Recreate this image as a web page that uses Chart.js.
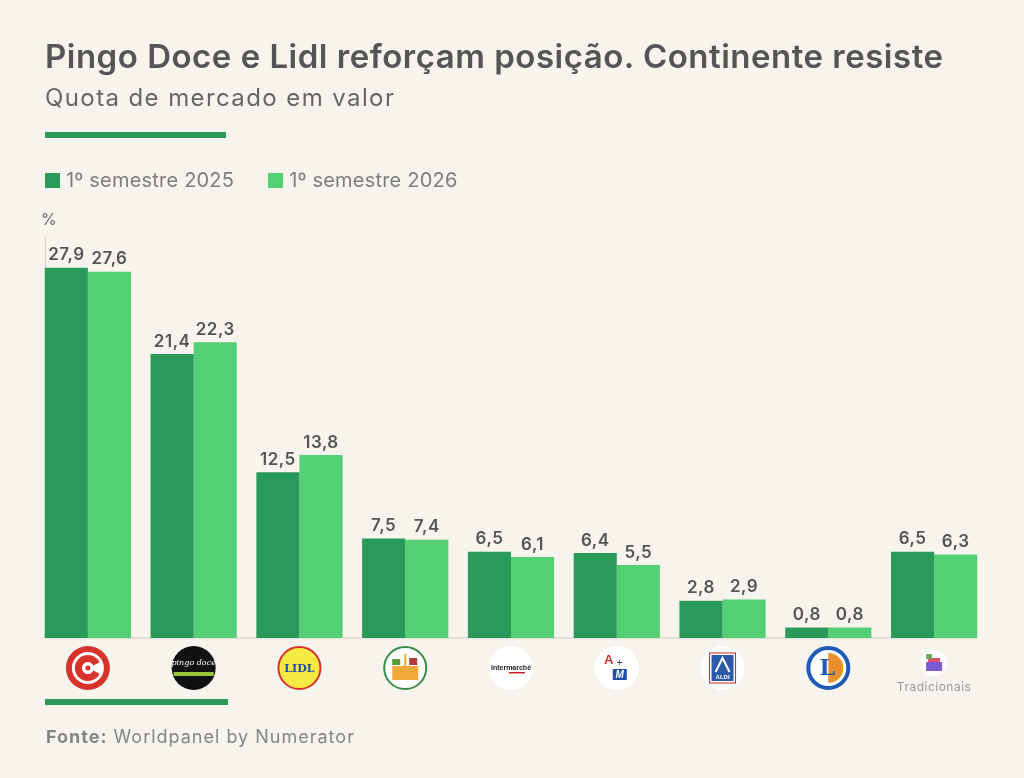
<!DOCTYPE html>
<html>
<head>
<meta charset="utf-8">
<script src="https://cdn.jsdelivr.net/npm/chart.js@4"></script>
<style>
  body{margin:0;background:#f7f4ee;font-family:Inter,"Open Sans",sans-serif;}
  #wrap{position:relative;width:1024px;height:778px;overflow:hidden;}
  #c{position:absolute;left:0;top:0;}
  .t{position:absolute;left:45px;white-space:nowrap;}
  #title{top:36px;font-size:33px;font-weight:600;color:#555;letter-spacing:0.5px;}
  #sub{top:83px;font-size:24px;color:#666;letter-spacing:1.4px;}
  .bar{position:absolute;left:45px;width:181px;height:6px;background:#2a9a5b;}
  #legend{top:168px;font-size:20px;color:#7d7d7d;letter-spacing:0.2px;}
  #legend span.sq{display:inline-block;width:15px;height:15px;margin-right:6px;vertical-align:-1px;}
  #pct{top:209px;left:41px;font-size:16px;color:#666;}
  #src{top:726px;left:46px;font-size:18px;color:#838783;letter-spacing:1px;}
</style>
</head>
<body>
<div id="wrap">
  <canvas id="c" width="1024" height="778"></canvas>
  <div class="t" id="title">Pingo Doce e Lidl reforçam posição. Continente resiste</div>
  <div class="t" id="sub">Quota de mercado em valor</div>
  <div class="bar" style="top:132px"></div>
  <div class="t" id="legend"></div>
  <div class="t" id="pct">%</div>
  <div class="bar" style="top:699px;width:183px"></div>
  <div class="t" id="src"><b>Fonte:</b> Worldpanel by Numerator</div>
</div>
<script>
// --- Dados ---
const insignias = ['Continente','Pingo Doce','Lidl','Mercadona','Intermarché','Auchan + Minipreço','Aldi','E.Leclerc','Tradicionais'];
const sem2025 = [27.9, 21.4, 12.5, 7.5, 6.5, 6.4, 2.8, 0.8, 6.5];
const sem2026 = [27.6, 22.3, 13.8, 7.4, 6.1, 5.5, 2.9, 0.8, 6.3];
const series = ['1º semestre 2025','1º semestre 2026'];
const cores = ['#2a9a5b','#55cf75'];

// --- Legenda ---
document.getElementById('legend').innerHTML = series.map((s,i)=>
  `<span style="margin-right:${i?0:34}px"><span class="sq" style="background:${cores[i]}"></span>${s}</span>`).join('');

// --- Rotulos por cima das barras ---
const valueLabels = {
  id:'valueLabels',
  afterDatasetsDraw(chart){
    const ctx = chart.ctx;
    ctx.save();
    ctx.font = '600 17px Inter, sans-serif';
    ctx.letterSpacing = '0.5px';
    ctx.fillStyle = '#555';
    ctx.textAlign = 'center';
    ctx.textBaseline = 'bottom';
    chart.data.datasets.forEach((ds,di)=>{
      chart.getDatasetMeta(di).data.forEach((b,i)=>{
        ctx.fillText(ds.data[i].toFixed(1).replace('.',','), b.x, b.y-4);
      });
    });
    ctx.restore();
  }
};

// --- Eixos e logotipos ---
function circ(ctx,x,y,r,fill,stroke,lw){
  ctx.beginPath(); ctx.arc(x,y,r,0,Math.PI*2);
  if(fill){ ctx.fillStyle=fill; ctx.fill(); }
  if(stroke){ ctx.lineWidth=lw||2; ctx.strokeStyle=stroke; ctx.stroke(); }
}
function drawLogo(ctx,i,x,y){
  const r=22;
  ctx.save();
  ctx.textAlign='center'; ctx.textBaseline='middle';
  if(i===0){ // Continente
    circ(ctx,x,y,r,'#d8322a');
    circ(ctx,x,y,16,'#fff');
    ctx.beginPath(); ctx.arc(x,y,9.5,0.45,Math.PI*2-0.45);
    ctx.lineWidth=7; ctx.strokeStyle='#d8322a'; ctx.stroke();
    circ(ctx,x,y,2.5,'#d8322a');
  } else if(i===1){ // Pingo Doce
    circ(ctx,x,y,r,'#111');
    ctx.fillStyle='#fff'; ctx.font='italic 8px "DejaVu Serif", serif';
    ctx.fillText('pingo doce',x,y-5);
    ctx.fillStyle='#9bc53d'; ctx.fillRect(x-20,y+4,40,4);
  } else if(i===2){ // Lidl
    circ(ctx,x,y,r-1,'#f8ea45','#d8322a',2);
    ctx.fillStyle='#1f4fa8'; ctx.font='bold 11px "DejaVu Serif", serif';
    ctx.fillText('LIDL',x,y+1);
  } else if(i===3){ // Mercadona
    circ(ctx,x,y,r-1,'#fff','#3a8a4a',2);
    ctx.fillStyle='#f2a93b'; ctx.fillRect(x-13,y-2,26,14);
    ctx.fillStyle='#5a9a3a'; ctx.fillRect(x-13,y-9,8,6);
    ctx.fillStyle='#b03a3a'; ctx.fillRect(x+4,y-10,8,7);
    ctx.fillStyle='#f2a93b'; ctx.fillRect(x-1,y-14,2,12);
  } else if(i===4){ // Intermarche
    circ(ctx,x,y,r,'#fff');
    ctx.font='bold 7px sans-serif'; ctx.fillStyle='#222';
    ctx.fillText('Intermarché',x,y);
    ctx.fillStyle='#c8202a'; ctx.fillRect(x-2,y+4,16,1.5);
  } else if(i===5){ // Auchan + Minipreco
    circ(ctx,x,y,r,'#fff');
    ctx.font='bold 13px sans-serif'; ctx.fillStyle='#d8322a';
    ctx.fillText('A',x-8,y-8);
    ctx.fillStyle='#333'; ctx.font='10px sans-serif'; ctx.fillText('+',x+3,y-5);
    ctx.fillStyle='#1f4fa8'; ctx.fillRect(x-4,y+1,14,11);
    ctx.fillStyle='#fff'; ctx.font='bold italic 10px sans-serif'; ctx.fillText('M',x+3,y+7);
  } else if(i===6){ // Aldi
    circ(ctx,x,y,r,'#fff');
    ctx.strokeStyle='#c8202a'; ctx.lineWidth=1; ctx.strokeRect(x-13,y-15,26,30);
    ctx.fillStyle='#2a5aa8'; ctx.fillRect(x-11,y-13,22,26);
    ctx.fillStyle='#fff'; ctx.font='bold 6px sans-serif'; ctx.fillText('ALDI',x,y+9);
    ctx.beginPath(); ctx.moveTo(x-7,y+4); ctx.lineTo(x,y-10); ctx.lineTo(x+7,y+4);
    ctx.strokeStyle='#fff'; ctx.lineWidth=2; ctx.stroke();
  } else if(i===7){ // E.Leclerc
    circ(ctx,x,y,r-2,'#fff','#1f5ab4',4);
    ctx.beginPath(); ctx.arc(x,y,15,-Math.PI/2,Math.PI/2); ctx.fillStyle='#e8902e'; ctx.fill();
    ctx.fillStyle='#1f5ab4'; ctx.font='bold 22px "DejaVu Serif", serif'; ctx.fillText('L',x-1,y+1);
  } else { // Tradicionais
    circ(ctx,x,y-5,13,'#fff');
    ctx.fillStyle='#7a5bd0'; ctx.fillRect(x-8,y-6,16,9);
    ctx.fillStyle='#e05070'; ctx.fillRect(x-6,y-10,12,4);
    ctx.fillStyle='#6aaa5a'; ctx.fillRect(x-8,y-14,6,5);
    ctx.fillStyle='#999'; ctx.font='12px Inter, sans-serif';
    ctx.letterSpacing='0.5px';
    ctx.fillText(insignias[i],x,y+19);
  }
  ctx.restore();
}
const axesLogos = {
  id:'axesLogos',
  beforeDatasetsDraw(chart){
    const ctx = chart.ctx, y = chart.scales.y;
    const m0 = chart.getDatasetMeta(0).data, m1 = chart.getDatasetMeta(1).data;
    const x0 = m0[0].x - m0[0].width/2, x1 = m1[m1.length-1].x + m1[m1.length-1].width/2;
    ctx.save();
    ctx.fillStyle='#e3e0da'; ctx.fillRect(x0, y.getPixelForValue(0)-1, x1-x0, 2);
    ctx.fillStyle='#d2d0cc'; ctx.fillRect(x0, y.getPixelForValue(30)-3, 1, y.getPixelForValue(0)-y.getPixelForValue(30)+3);
    ctx.restore();
  },
  afterDraw(chart){
    const x = chart.scales.x;
    insignias.forEach((n,i)=>drawLogo(chart.ctx,i,x.getPixelForValue(i),668));
  }
};

new Chart(document.getElementById('c'),{
  type:'bar',
  data:{
    labels:insignias,
    datasets:[
      {label:series[0], data:sem2025, backgroundColor:cores[0]},
      {label:series[1], data:sem2026, backgroundColor:cores[1]}
    ]
  },
  options:{
    responsive:false,
    animation:false,
    events:[],
    layout:{padding:{left:35,right:37,top:240,bottom:140}},
    datasets:{bar:{categoryPercentage:0.815,barPercentage:1}},
    plugins:{legend:{display:false},tooltip:{enabled:false}},
    scales:{
      x:{display:false,offset:true},
      y:{display:false,min:0,max:30}
    }
  },
  plugins:[valueLabels,axesLogos]
});
</script>
</body>
</html>
